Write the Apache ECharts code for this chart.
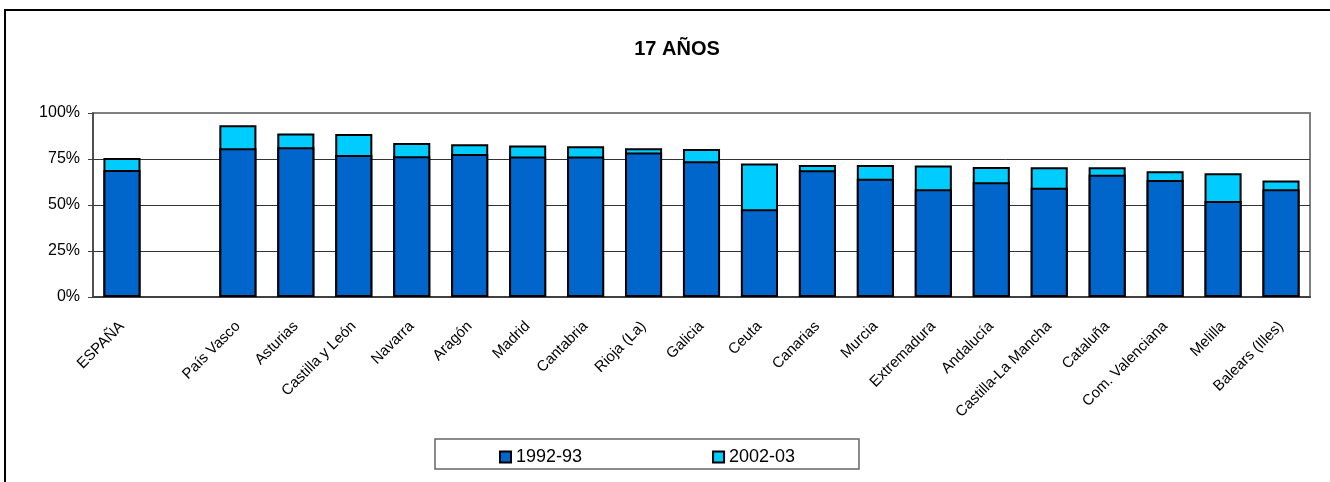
<!DOCTYPE html>
<html>
<head>
<meta charset="utf-8">
<script src="https://cdn.jsdelivr.net/npm/echarts@6/dist/echarts.min.js"></script>
<style>
  html, body { margin: 0; padding: 0; background: #fff; }
  #chart { width: 1330px; height: 482px; }
</style>
</head>
<body>
<div id="chart"></div>
<script>
// Porcentaje de escolarización a los 17 años, por comunidad
var categories = ['ESPAÑA', '', 'País Vasco', 'Asturias', 'Castilla y León', 'Navarra', 'Aragón',
  'Madrid', 'Cantabria', 'Rioja (La)', 'Galicia', 'Ceuta', 'Canarias', 'Murcia', 'Extremadura',
  'Andalucía', 'Castilla-La Mancha', 'Cataluña', 'Com. Valenciana', 'Melilla', 'Balears (Illes)'];

var curso1992 = [69.0, null, 80.8, 81.4, 77.2, 76.5, 77.7, 76.3, 76.3, 78.5, 73.8, 47.7, 68.9,
  64.3, 58.5, 62.3, 59.4, 66.5, 63.6, 52.2, 58.5];

var curso2002 = [75.5, null, 93.3, 88.8, 88.6, 83.7, 83.0, 82.3, 81.9, 80.8, 80.4, 72.5, 71.7,
  71.7, 71.4, 70.7, 70.5, 70.5, 68.3, 67.2, 63.3];

var yTicks = [0, 25, 50, 75, 100];

var chart = echarts.init(document.getElementById('chart'));

chart.setOption({
  backgroundColor: '#fff',
  animation: false,
  textStyle: { fontFamily: 'Liberation Sans, Arial, sans-serif', color: '#000' },
  title: {
    text: '17 AÑOS',
    left: 672,
    top: 34,
    textAlign: 'center',
    textStyle: { fontSize: 20, fontWeight: 'bold', color: '#000', fontFamily: 'Liberation Sans, Arial, sans-serif' }
  },
  graphic: [
    {
      type: 'rect',
      shape: { x: 5, y: 10, width: 1400, height: 600 },
      style: { fill: 'none', stroke: '#000', lineWidth: 2 },
      silent: true
    },
    {
      type: 'rect',
      shape: { x: 435, y: 439, width: 424, height: 30 },
      style: { fill: '#fff', stroke: '#666', lineWidth: 1.5 },
      silent: true,
      z: -1
    }
  ],
  legend: {
    data: ['1992-93', '2002-03'],
    left: 499,
    top: 448,
    padding: 0,
    itemWidth: 11,
    itemHeight: 11,
    itemGap: 130,
    icon: 'rect',
    textStyle: { fontSize: 18, color: '#000' },
    z: 5
  },
  grid: {
    left: 93,
    right: 20,
    top: 113,
    bottom: 185,
    show: true,
    borderColor: '#808080',
    borderWidth: 2,
    containLabel: false
  },
  xAxis: {
    type: 'category',
    data: categories,
    axisTick: { show: false },
    axisLine: { lineStyle: { color: '#404040', width: 2 } },
    axisLabel: {
      interval: 0,
      rotate: 45,
      margin: 27,
      fontSize: 15,
      color: '#000'
    }
  },
  yAxis: {
    type: 'value',
    min: yTicks[0],
    max: yTicks[yTicks.length - 1],
    interval: 25,
    axisLine: { show: true, lineStyle: { color: '#404040', width: 1.5 } },
    axisTick: { show: true, inside: false, length: 5, lineStyle: { color: '#404040' } },
    axisLabel: { formatter: '{value}%', fontSize: 16, margin: 13, color: '#000' },
    splitLine: { show: true, showMaxLine: false, lineStyle: { color: '#333', width: 1 } }
  },
  series: [
    {
      name: '2002-03',
      type: 'bar',
      data: curso2002,
      barWidth: '64%',
      barGap: '-100%',
      itemStyle: { color: '#00CCFF', borderColor: '#000', borderWidth: 2 }
    },
    {
      name: '1992-93',
      type: 'bar',
      data: curso1992,
      barWidth: '64%',
      barGap: '-100%',
      itemStyle: { color: '#0066CC', borderColor: '#000', borderWidth: 2 }
    }
  ]
});
</script>
</body>
</html>
